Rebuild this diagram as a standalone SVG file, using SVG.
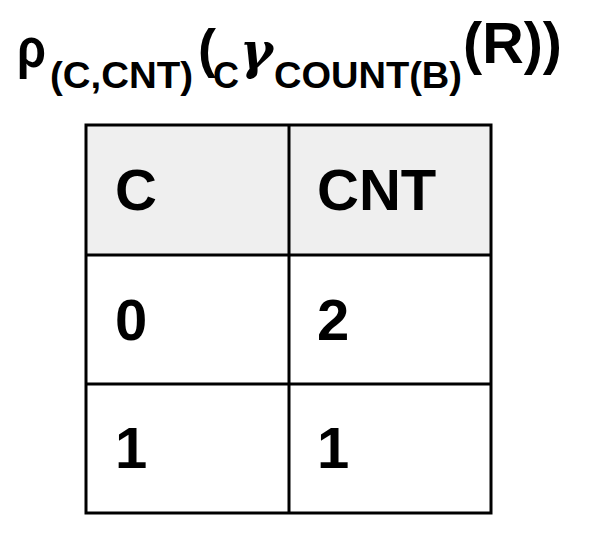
<svg xmlns="http://www.w3.org/2000/svg" width="598" height="542" viewBox="0 0 598 542">
<style>
.t{font-family:"Liberation Sans",Arial,sans-serif;font-weight:bold;fill:#000}
.cell{font-family:"Liberation Sans",Arial,sans-serif;font-weight:bold;font-size:58px;fill:#000}
.ln{stroke:#000;stroke-width:3;fill:none}
</style>
<rect width="598" height="542" fill="#fff"/>
<g id="title">
<text class="t" x="17" y="67" font-size="56" textLength="29" lengthAdjust="spacingAndGlyphs">ρ</text>
<text class="t" x="50" y="88" font-size="36" textLength="143" lengthAdjust="spacingAndGlyphs">(C,CNT)</text>
<text class="t" x="198" y="67" font-size="54">(</text>
<text class="t" x="213" y="88" font-size="36">C</text>
<text x="240" y="68" font-size="50" font-weight="bold" font-family="'DejaVu Serif',serif" font-style="italic">γ</text>
<text class="t" x="274" y="88" font-size="36" textLength="188" lengthAdjust="spacingAndGlyphs">COUNT(B)</text>
<text class="t" x="463" y="63" font-size="58" textLength="99" lengthAdjust="spacingAndGlyphs">(R))</text>
</g>
<g id="table">
<rect x="86" y="125" width="405" height="130" fill="#efefef"/>
<rect class="ln" x="86" y="125" width="405" height="388"/>
<line class="ln" x1="86" y1="255" x2="491" y2="255"/>
<line class="ln" x1="86" y1="384" x2="491" y2="384"/>
<line class="ln" x1="289" y1="125" x2="289" y2="513"/>
<text class="cell" x="115" y="210">C</text>
<text class="cell" x="317" y="210">CNT</text>
<text class="cell" x="115" y="340">0</text>
<text class="cell" x="317" y="340">2</text>
<text class="cell" x="115" y="468">1</text>
<text class="cell" x="317" y="468">1</text>
</g>
</svg>
